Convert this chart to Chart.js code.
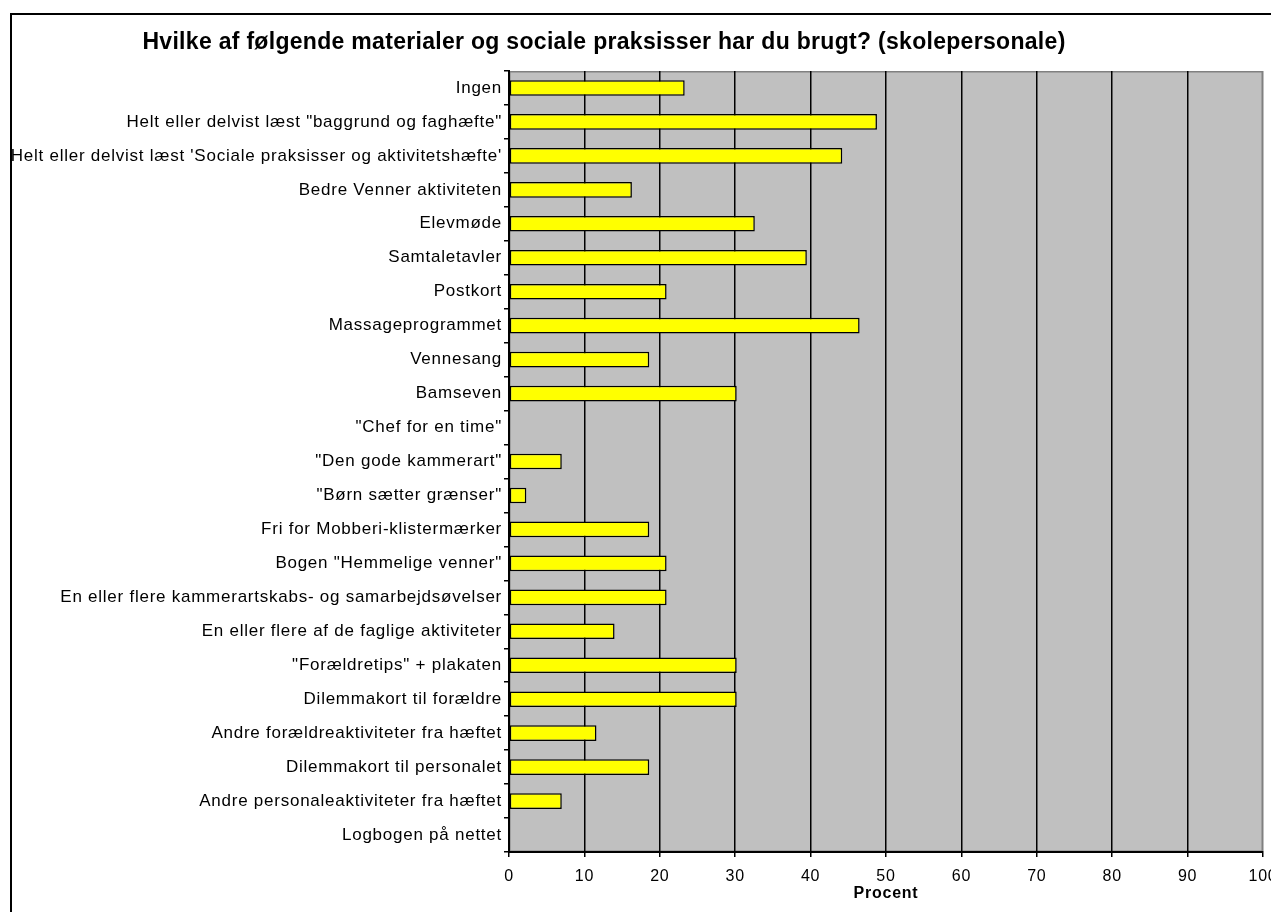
<!DOCTYPE html>
<html>
<head>
<meta charset="utf-8">
<script src="https://cdn.jsdelivr.net/npm/chart.js@4"></script>
<style>
  html, body { margin: 0; padding: 0; background: #fff; overflow: hidden; }
  #wrap { width: 1271px; height: 912px; }
</style>
</head>
<body>
<div id="wrap"><canvas id="chart" width="1271" height="912"></canvas></div>
<script>
/* ---------- data ---------- */
const chartTitle = 'Hvilke af følgende materialer og sociale praksisser har du brugt? (skolepersonale)';
const axisTitle  = 'Procent';

const categories = [
  'Ingen',
  'Helt eller delvist læst "baggrund og faghæfte"',
  "Helt eller delvist læst 'Sociale praksisser og aktivitetshæfte'",
  'Bedre Venner aktiviteten',
  'Elevmøde',
  'Samtaletavler',
  'Postkort',
  'Massageprogrammet',
  'Vennesang',
  'Bamseven',
  '"Chef for en time"',
  '"Den gode kammerart"',
  '"Børn sætter grænser"',
  'Fri for Mobberi-klistermærker',
  'Bogen "Hemmelige venner"',
  'En eller flere kammerartskabs- og samarbejdsøvelser',
  'En eller flere af de faglige aktiviteter',
  '"Forældretips" + plakaten',
  'Dilemmakort til forældre',
  'Andre forældreaktiviteter fra hæftet',
  'Dilemmakort til personalet',
  'Andre personaleaktiviteter fra hæftet',
  'Logbogen på nettet',
];

const percent = [
  23.3, 48.8, 44.2, 16.3, 32.6, 39.5, 20.9, 46.5, 18.6, 30.2, 0, 7.0,
  2.3, 18.6, 20.9, 20.9, 14.0, 30.2, 30.2, 11.6, 18.6, 7.0, 0,
];

const xMin = 0, xMax = 100, xStep = 10;

/* ---------- frame, plot background, title ---------- */
const FONT_FAMILY = '"Liberation Sans", Arial, sans-serif';

const excelLook = {
  id: 'excelLook',
  beforeDraw(chart) {
    const ctx = chart.ctx;
    const a = chart.chartArea;
    ctx.save();
    ctx.fillStyle = '#fff';
    ctx.fillRect(0, 0, chart.width, chart.height);
    // outer frame (runs off the right/bottom edge)
    ctx.strokeStyle = '#000';
    ctx.lineWidth = 2;
    ctx.strokeRect(11, 14, chart.width + 20, chart.height + 20);
    // plot area
    ctx.fillStyle = '#c0c0c0';
    ctx.fillRect(a.left, a.top, a.right - a.left, a.bottom - a.top);
    ctx.strokeStyle = '#808080';
    ctx.lineWidth = 1.5;
    ctx.strokeRect(a.left + 0.75, a.top + 0.75, a.right - a.left - 1.5, a.bottom - a.top - 1.5);
    // chart title
    ctx.fillStyle = '#000';
    ctx.font = 'bold 23px ' + FONT_FAMILY;
    ctx.letterSpacing = '0.3px';
    ctx.textAlign = 'center';
    ctx.textBaseline = 'alphabetic';
    ctx.fillText(chartTitle, 604, 48.5);
    ctx.restore();
    // Excel text runs a little wider than canvas Arial
    ctx.letterSpacing = '0.75px';
  },
};

const font = { family: FONT_FAMILY, size: 17 };

new Chart(document.getElementById('chart').getContext('2d'), {
  type: 'bar',
  data: {
    labels: categories,
    datasets: [{
      label: axisTitle,
      data: percent,
      backgroundColor: '#ffff00',
      borderColor: '#000',
      borderWidth: 1.5,
      borderSkipped: false,
      barPercentage: 0.46,
      categoryPercentage: 1,
    }],
  },
  options: {
    indexAxis: 'y',
    responsive: false,
    devicePixelRatio: 1,
    animation: false,
    layout: { padding: { top: 71, right: 8, bottom: 0, left: 0 } },
    plugins: {
      legend:  { display: false },
      tooltip: { enabled: false },
      title:   { display: false },
    },
    scales: {
      x: {
        min: xMin,
        max: xMax,
        ticks: {
          stepSize: xStep,
          color: '#000',
          font: { family: FONT_FAMILY, size: 16 },
          padding: 10,
          maxRotation: 0,
        },
        grid: {
          color: ctx => (ctx.tick && ctx.tick.value === xMax ? '#808080' : '#000'),
          tickColor: '#000',
          lineWidth: 1.5,
          tickLength: 5,
        },
        border: { color: '#000', width: 2 },
        title: {
          display: true,
          text: axisTitle,
          color: '#000',
          font: { family: FONT_FAMILY, size: 16, weight: 'bold' },
          padding: { top: 4, bottom: 9 },
        },
        afterFit(scale) {
          scale.height = 60;
          scale.paddingLeft = 0;
          scale.paddingRight = 0;
        },
      },
      y: {
        ticks: {
          color: '#000',
          font,
          padding: 2,
          autoSkip: false,
        },
        grid: {
          drawOnChartArea: false,
          drawTicks: true,
          tickLength: 5,
          lineWidth: 1.5,
          color: '#000',
          offset: true,
        },
        border: { color: '#000', width: 2 },
        afterFit(scale) {
          scale.width = 509;
          scale.paddingTop = 0;
          scale.paddingBottom = 0;
        },
      },
    },
  },
  plugins: [excelLook],
});
</script>
</body>
</html>
